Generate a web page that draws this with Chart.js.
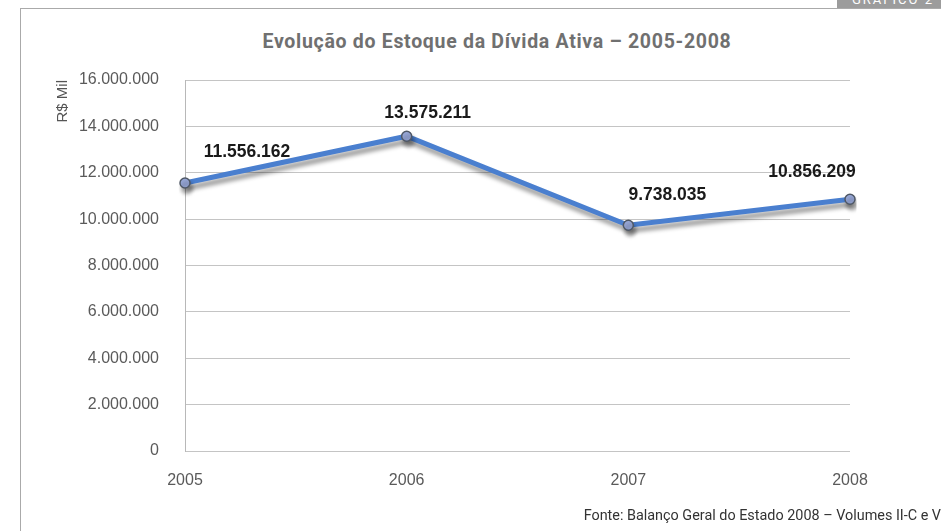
<!DOCTYPE html>
<html>
<head>
<meta charset="utf-8">
<script src="https://cdn.jsdelivr.net/npm/chart.js@4/dist/chart.umd.min.js"></script>
<style>
  html, body { margin:0; padding:0; background:#fff; width:941px; height:531px; overflow:hidden; }
  #frame { position:absolute; left:20px; top:8px; width:921px; height:523px; border-left:1px solid #aaa; border-top:1px solid #aaa; }
  #tab { position:absolute; left:837px; top:0; width:104px; height:8px; background:#9c9c9c; overflow:hidden; }
  #tab span { position:absolute; left:15px; top:-8px; font:13px "Roboto", sans-serif; color:#fff; letter-spacing:2px; white-space:nowrap; }
  #title { position:absolute; left:0; width:994px; top:30px; text-align:center; font:700 19.5px "Roboto", sans-serif; color:#707070; letter-spacing:0.7px; white-space:nowrap; }
  #source { position:absolute; right:0; top:507px; font:14.4px "Roboto", sans-serif; color:#333; white-space:nowrap; }
  canvas { position:absolute; left:0; top:0; }
</style>
</head>
<body>
<div id="frame"></div>
<div id="tab"><span>GRÁFICO 2</span></div>
<div id="title">Evolução do Estoque da Dívida Ativa – 2005-2008</div>
<canvas id="c" width="941" height="531"></canvas>
<div id="source">Fonte: Balanço Geral do Estado 2008 – Volumes II-C e V</div>
<script>
const years = ['2005', '2006', '2007', '2008'];
const estoque = [11556162, 13575211, 9738035, 10856209];
const yMin = 0;
const yMax = 16000000;
const yStep = 2000000;
const yAxisTitle = 'R$ Mil';

function fmtBR(v) {
  return String(Math.round(v)).replace(/\B(?=(\d{3})+(?!\d))/g, '.');
}

const labelOffsets = [[62, -31], [21, -23], [39, -30], [-38, -27]];

const shadowPlugin = {
  id: 'lineShadow',
  beforeDatasetsDraw(chart) {
    const ctx = chart.ctx;
    ctx.save();
    ctx.shadowColor = 'rgba(0,0,0,0.4)';
    ctx.shadowBlur = 4;
    ctx.shadowOffsetX = 2;
    ctx.shadowOffsetY = 5;
  },
  afterDatasetsDraw(chart) {
    chart.ctx.restore();
  }
};

const valueLabels = {
  id: 'valueLabels',
  afterDraw(chart) {
    const ctx = chart.ctx;
    const meta = chart.getDatasetMeta(0);
    ctx.save();
    ctx.font = 'bold 17.5px "Liberation Sans", Arial, sans-serif';
    ctx.fillStyle = '#1a1a1a';
    ctx.textAlign = 'center';
    ctx.textBaseline = 'middle';
    meta.data.forEach((pt, i) => {
      const off = labelOffsets[i];
      ctx.fillText(fmtBR(chart.data.datasets[0].data[i]), pt.x + off[0], pt.y + off[1]);
    });
    ctx.restore();
  }
};

Chart.defaults.font.family = '"Liberation Sans", Arial, sans-serif';

new Chart(document.getElementById('c'), {
  type: 'line',
  data: {
    labels: years,
    datasets: [{
      data: estoque,
      borderColor: '#4a7fcf',
      borderWidth: 5,
      tension: 0,
      pointRadius: 5,
      pointBackgroundColor: '#98a8d8',
      pointBorderColor: '#4f5866',
      pointBorderWidth: 1.5,
      fill: false
    }]
  },
  options: {
    responsive: false,
    animation: false,
    layout: { padding: { left: 54, right: 91, top: 80, bottom: 0 } },
    plugins: { legend: { display: false }, tooltip: { enabled: false }, title: { display: false } },
    scales: {
      x: {
        offset: false,
        grid: { display: false, drawTicks: false },
        border: { display: false },
        ticks: { padding: 20, color: '#5a5a5a', font: { size: 16 } },
        afterFit(s) { s.height = 80; }
      },
      y: {
        min: yMin, max: yMax,
        ticks: { stepSize: yStep, padding: 26, color: '#5a5a5a', font: { size: 16 }, callback: v => fmtBR(v) },
        grid: { color: '#c4c4c4', lineWidth: 1, drawTicks: false },
        border: { display: true, color: '#b8b8b8', width: 1 },
        title: { display: true, text: yAxisTitle, align: 'end', color: '#555', font: { size: 15 }, padding: { top: 0, bottom: 0, y: 0 } },
        afterFit(s) { s.width = 131; }
      }
    }
  },
  plugins: [shadowPlugin, valueLabels]
});
</script>
</body>
</html>
